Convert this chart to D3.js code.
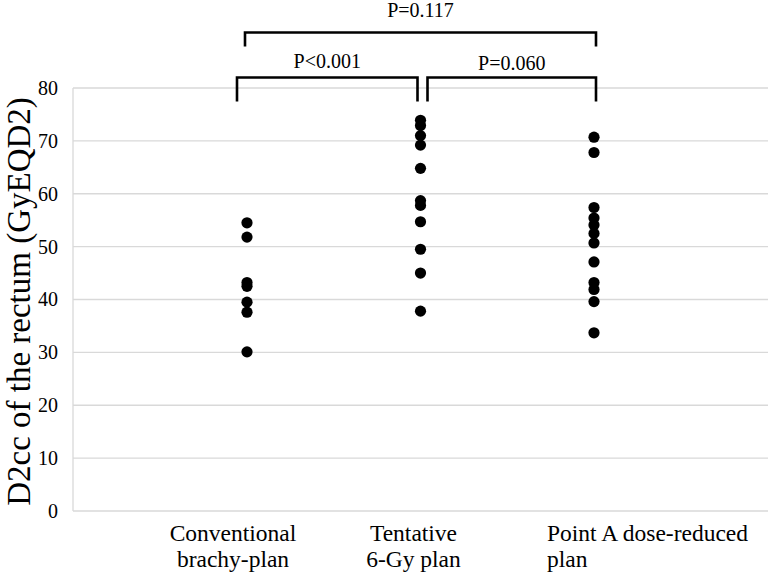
<!DOCTYPE html>
<html>
<head>
<meta charset="utf-8">
<script src="https://cdn.jsdelivr.net/npm/d3@7/dist/d3.min.js"></script>
<style>
  html, body { margin: 0; padding: 0; background: #fff; }
  svg { display: block; }
  svg text { font-family: "Liberation Serif", "Times New Roman", Times, serif !important; fill: #000; }
</style>
</head>
<body>
<svg id="chart" width="769" height="574"></svg>
<script>
// ---- data ----
const categories = ["Conventional brachy-plan", "Tentative 6-Gy plan", "Point A dose-reduced plan"];
const categoryLines = [["Conventional", "brachy-plan"], ["Tentative", "6-Gy plan"], ["Point A dose-reduced", "plan"]];
const conventionalValues = [54.5, 51.8, 43.2, 42.5, 39.5, 37.6, 30.1];
const tentativeValues = [73.9, 72.9, 71.0, 69.2, 64.8, 58.7, 57.8, 54.7, 49.5, 45.0, 37.8];
const pointAValues = [70.7, 67.8, 57.4, 55.4, 54.1, 52.5, 50.7, 47.1, 43.2, 41.9, 39.6, 33.7];
const yTicks = [0, 10, 20, 30, 40, 50, 60, 70, 80];
const comparisons = [
  { from: 0, to: 1, label: "P<0.001" },
  { from: 1, to: 2, label: "P=0.060" },
  { from: 0, to: 2, label: "P=0.117" }
];
const yTitle = "D2cc of the rectum (GyEQD2)";

const series = [conventionalValues, tentativeValues, pointAValues];

// ---- layout ----
const FONT = '"Liberation Serif", "Times New Roman", Times, serif';
const svg = d3.select("#chart");
const plotLeft = 73, plotRight = 768, plotTop = 88, plotBottom = 511;

const x = d3.scalePoint().domain(categories).range([247, 594]);
const y = d3.scaleLinear().domain([0, 80]).range([plotBottom, plotTop]);

// gridlines
svg.append("g").selectAll("line").data(yTicks).join("line")
  .attr("x1", plotLeft).attr("x2", plotRight)
  .attr("y1", d => y(d)).attr("y2", d => y(d))
  .attr("stroke", "#d9d9d9").attr("stroke-width", 1.3);

// y axis line
svg.append("line")
  .attr("x1", plotLeft).attr("x2", plotLeft)
  .attr("y1", y(80)).attr("y2", y(0))
  .attr("stroke", "#d9d9d9").attr("stroke-width", 1.3);

// y axis via d3
const yAxis = d3.axisLeft(y).tickValues(yTicks).tickSize(0).tickPadding(0);
const gy = svg.append("g").attr("transform", `translate(${plotLeft - 15},0)`).call(yAxis);
gy.attr("font-family", FONT);
gy.select(".domain").remove();
gy.selectAll("text")
  .attr("font-family", FONT)
  .attr("font-size", 20).attr("fill", "#000");

// y title
svg.append("text")
  .attr("transform", `translate(30,${(y(0) + y(80)) / 2 + 2}) rotate(-90)`)
  .attr("text-anchor", "middle")
  .attr("font-family", FONT)
  .attr("font-size", 33)
  .text(yTitle);

// points
series.forEach((vals, i) => {
  svg.append("g").selectAll("circle").data(vals).join("circle")
    .attr("cx", x(categories[i]))
    .attr("cy", d => y(d))
    .attr("r", 5.6)
    .attr("fill", "#000");
});

// category labels
const labelDx = [-14, -7, -47];
const labelAnchor = ["middle", "middle", "start"];
categoryLines.forEach((lines, i) => {
  const t = svg.append("text")
    .attr("font-family", FONT)
    .attr("font-size", 23.5)
    .attr("text-anchor", labelAnchor[i]);
  const lx = x(categories[i]) + labelDx[i];
  lines.forEach((ln, j) => {
    t.append("tspan").attr("x", lx).attr("y", 541 + j * 26).text(ln);
  });
});

// significance brackets
const bracketSpecs = [
  { x1: x(categories[0]) - 10, x2: x(categories[1]) - 3, top: 77.5, bottom: 101.5, ty: 68 },
  { x1: x(categories[1]) + 7, x2: x(categories[2]) + 2, top: 77.5, bottom: 101.5, ty: 70 },
  { x1: x(categories[0]) - 2, x2: x(categories[2]) + 2, top: 32.5, bottom: 46.5, ty: 17 }
];
comparisons.forEach((c, i) => {
  const b = bracketSpecs[i];
  svg.append("path")
    .attr("d", `M${b.x1},${b.bottom}V${b.top}H${b.x2}V${b.bottom}`)
    .attr("fill", "none").attr("stroke", "#000").attr("stroke-width", 2.6);
  svg.append("text")
    .attr("x", (b.x1 + b.x2) / 2).attr("y", b.ty)
    .attr("text-anchor", "middle")
    .attr("font-family", FONT)
    .attr("font-size", 20)
    .text(c.label);
});
</script>
</body>
</html>
